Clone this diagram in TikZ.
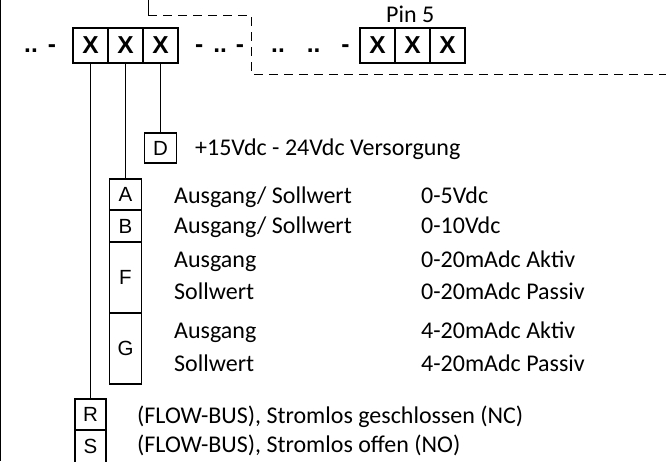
\documentclass[tikz,border=0pt]{standalone}
\usepackage{fontspec}
\setmainfont{Carlito}
\newfontfamily\arialfont{Liberation Sans}
\usetikzlibrary{positioning}

\begin{document}
\begin{tikzpicture}[
  x=1pt, y=-1pt,
  pinbox/.style={draw, line width=1.2pt, minimum width=35pt, minimum height=35pt, inner sep=0pt, outer sep=0pt, font=\arialfont\bfseries\fontsize{24.5}{24}\selectfont},
  codebox/.style={draw, line width=1.2pt, minimum width=32pt, inner sep=0pt, outer sep=0pt, font=\arialfont\fontsize{20.5}{20}\selectfont},
  desc/.style={anchor=base west, inner sep=0pt, font=\fontsize{24}{28}\selectfont},
  dots/.style={anchor=base west, inner sep=0pt, font=\arialfont\bfseries\fontsize{24.5}{24}\selectfont},
  wire/.style={line width=1pt},
  frame/.style={line width=1pt, dash pattern=on 9pt off 6pt}
]
\useasboundingbox (0,0) rectangle (666,461);

% left edge
\draw[wire] (0.5,0) -- (0.5,461);

% first pin group
\node[dots] (lead) at (24,52) {..\hspace{10pt}-};
\node[pinbox] (x1) at (90.5,45.5) {X};
\node[pinbox, right=0pt of x1] (x2) {X};
\node[pinbox, right=0pt of x2] (x3) {X};
\node[dots] (gap1) at (195,52) {-\hspace{10pt}..\hspace{9pt}-};

% second pin group (pin 5)
\node[dots] (gap2) at (271,52) {..\hspace{22pt}..\hspace{21pt}-};
\node[pinbox] (p1) at (377.5,45.5) {X};
\node[pinbox, right=0pt of p1] (p2) {X};
\node[pinbox, right=0pt of p2] (p3) {X};
\node[desc] (pin) at (386,22) {Pin 5};

% dashed frame round the second group
\coordinate (fa) at (148,0);
\coordinate (fb) at (148,15);
\coordinate (fc) at (251,15);
\coordinate (fd) at (666,74);
\draw[wire] (fa) -- (fb);
\draw[frame] (fb) -- (fc) |- (fd);

% supply
\node[codebox, minimum height=30pt] (D) at (160.5,148) {D};
\node[desc] (tD) at (195,155) {+15Vdc - 24Vdc Versorgung};

% output / setpoint
\node[codebox, minimum height=31pt] (A) at (125.5,194.5) {A};
\node[codebox, minimum height=32pt, below=0pt of A] (B) {B};
\node[codebox, minimum height=71pt, below=0pt of B] (F) {F};
\node[codebox, minimum height=71pt, below=0pt of F] (G) {G};

\node[desc] (tA) at (174,203) {Ausgang/ Sollwert};
\node[desc] (vA) at (421,203) {0-5Vdc};
\node[desc] (tB) at (174,233) {Ausgang/ Sollwert};
\node[desc] (vB) at (421,233) {0-10Vdc};
\node[desc] (tF1) at (174,267) {Ausgang};
\node[desc] (vF1) at (421,267) {0-20mAdc Aktiv};
\node[desc] (tF2) at (174,299) {Sollwert};
\node[desc] (vF2) at (421,299) {0-20mAdc Passiv};
\node[desc] (tG1) at (174,338) {Ausgang};
\node[desc] (vG1) at (421,338) {4-20mAdc Aktiv};
\node[desc] (tG2) at (174,371) {Sollwert};
\node[desc] (vG2) at (421,371) {4-20mAdc Passiv};

% valve
\node[codebox, minimum width=31pt, minimum height=31pt] (R) at (90.5,414.5) {R};
\node[codebox, minimum width=31pt, minimum height=33pt, below=0pt of R] (S) {S};
\node[desc] (tR) at (137,423) {(FLOW-BUS), Stromlos geschlossen (NC)};
\node[desc] (tS) at (137,452) {(FLOW-BUS), Stromlos offen (NO)};

% wires
\draw[wire] (x1.south) -- (R.north);
\draw[wire] (x2.south) -- (A.north);
\draw[wire] (x3.south) -- (D.north);

\end{tikzpicture}
\end{document}
